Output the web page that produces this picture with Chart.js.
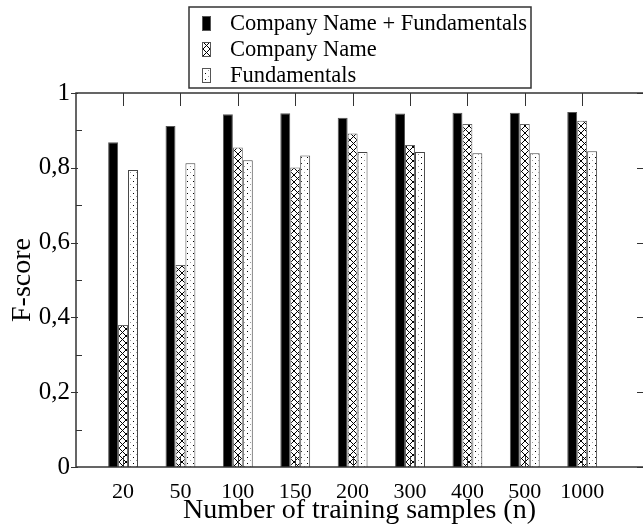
<!DOCTYPE html>
<html>
<head>
<meta charset="utf-8">
<script src="https://cdn.jsdelivr.net/npm/chart.js@4.4.0/dist/chart.umd.min.js"></script>
<style>
  html, body { margin: 0; padding: 0; background: #fff; }
  #wrap { width: 643px; height: 525px; position: relative; }
</style>
</head>
<body>
<div id="wrap"><canvas id="chart"></canvas></div>
<script>
// categories and series
const categories = ['20', '50', '100', '150', '200', '300', '400', '500', '1000'];
const combined = [0.868, 0.912, 0.943, 0.946, 0.934, 0.945, 0.947, 0.947, 0.949];
const nameOnly = [0.380, 0.540, 0.854, 0.801, 0.892, 0.861, 0.917, 0.917, 0.926];
const fundamentals = [0.794, 0.812, 0.820, 0.833, 0.842, 0.842, 0.839, 0.839, 0.844];
const seriesLabels = ['Company Name + Fundamentals', 'Company Name', 'Fundamentals'];
const yTickValues = [0, 0.2, 0.4, 0.6, 0.8, 1];
const yTickLabels = ['0', '0,2', '0,4', '0,6', '0,8', '1'];
const yMinorValues = [0.1, 0.3, 0.5, 0.7, 0.9];

const FONT = '"Liberation Serif", "DejaVu Serif", serif';

function makePattern(size, drawFn) {
    const c = document.createElement('canvas');
    c.width = size; c.height = size;
    const g = c.getContext('2d');
    g.fillStyle = '#fff';
    g.fillRect(0, 0, size, size);
    drawFn(g);
    return c;
}

const hatchTile = makePattern(7, g => {
    g.strokeStyle = '#000';
    g.lineWidth = 1;
    g.beginPath();
    g.moveTo(0, 0); g.lineTo(7, 7);
    g.moveTo(7, 0); g.lineTo(0, 7);
    g.stroke();
});
const dotTile = makePattern(6, g => {
    g.fillStyle = '#000';
    g.fillRect(1, 1, 1, 1);
    g.fillStyle = '#999';
    g.fillRect(4, 4, 1, 1);
});

const ctx = document.getElementById('chart').getContext('2d');
const hatch = ctx.createPattern(hatchTile, 'repeat');
const dots = ctx.createPattern(dotTile, 'repeat');

const toPoints = arr => arr.map((y, i) => ({ x: i + 1, y: y }));

// frame, ticks and boxed legend, drawn the xmgrace way
const framePlugin = {
    id: 'frame',
    afterDraw(chart) {
        const { ctx, chartArea: a, scales } = chart;
        const xs = scales.x, ys = scales.y;
        ctx.save();
        ctx.strokeStyle = '#333';
        ctx.lineWidth = 1.5;
        ctx.strokeRect(a.left, a.top, a.right - a.left + 4, a.bottom - a.top);
        ctx.lineWidth = 1;
        ctx.beginPath();
        categories.forEach((c, i) => {
            const px = Math.round(xs.getPixelForValue(i + 1)) + 0.5;
            ctx.moveTo(px, a.top); ctx.lineTo(px, a.top + 13);
            ctx.moveTo(px, a.bottom); ctx.lineTo(px, a.bottom - 11);
        });
        yTickValues.forEach(v => {
            const py = Math.round(ys.getPixelForValue(v)) + 0.5;
            ctx.moveTo(a.left - 5, py); ctx.lineTo(a.left + 2, py);
            ctx.moveTo(a.right - 6, py); ctx.lineTo(a.right, py);
        });
        yMinorValues.forEach(v => {
            const py = Math.round(ys.getPixelForValue(v)) + 0.5;
            ctx.moveTo(a.left, py); ctx.lineTo(a.left + 6, py);
        });
        ctx.stroke();

        // legend box
        const bx = 189, by = 7, bw = 342, bh = 81;
        ctx.fillStyle = '#fff';
        ctx.fillRect(bx, by, bw, bh);
        ctx.strokeStyle = '#333';
        ctx.lineWidth = 1.5;
        ctx.strokeRect(bx, by, bw, bh);
        ctx.font = '22.5px ' + FONT;
        ctx.textBaseline = 'middle';
        ctx.textAlign = 'left';
        chart.data.datasets.forEach((ds, i) => {
            const cy = 23 + i * 26;
            ctx.fillStyle = ds.backgroundColor;
            ctx.fillRect(202, cy - 7, 9, 15);
            ctx.strokeStyle = '#555';
            ctx.lineWidth = 1;
            ctx.strokeRect(202.5, cy - 6.5, 8, 14);
            ctx.fillStyle = '#000';
            ctx.fillText(ds.label, 230, cy + 1);
        });
        ctx.restore();
    }
};

new Chart(ctx, {
    type: 'bar',
    data: {
        datasets: [
            { label: seriesLabels[0], data: toPoints(combined), backgroundColor: '#000', borderColor: '#555', borderWidth: 1 },
            { label: seriesLabels[1], data: toPoints(nameOnly), backgroundColor: hatch, borderColor: '#666', borderWidth: 1 },
            { label: seriesLabels[2], data: toPoints(fundamentals), backgroundColor: dots, borderColor: '#444', borderWidth: 1 }
        ]
    },
    options: {
        responsive: true,
        maintainAspectRatio: false,
        animation: false,
        categoryPercentage: 0.52,
        barPercentage: 1.0,
        layout: { padding: { top: 93, left: 0, right: 0, bottom: 0 } },
        plugins: {
            legend: { display: false },
            tooltip: { enabled: false }
        },
        scales: {
            x: {
                type: 'linear',
                offset: false,
                min: 0.18,
                max: 10.06,
                grid: { display: false, drawTicks: false, offset: false },
                border: { display: false },
                afterBuildTicks: scale => {
                    scale.ticks = categories.map((c, i) => ({ value: i + 1 }));
                },
                afterFit: scale => { scale.height = 58; },
                ticks: {
                    autoSkip: false,
                    maxRotation: 0,
                    padding: 12,
                    color: '#000',
                    font: { family: FONT, size: 22 },
                    callback: v => categories[v - 1]
                },
                title: {
                    display: true,
                    text: 'Number of training samples (n)',
                    color: '#000',
                    font: { family: FONT, size: 28 },
                    padding: { top: 0, bottom: -2 }
                }
            },
            y: {
                min: 0,
                max: 1,
                grid: { display: false, drawTicks: false },
                border: { display: false },
                afterBuildTicks: scale => {
                    scale.ticks = yTickValues.map(v => ({ value: v }));
                },
                afterFit: scale => { scale.width = 76; },
                ticks: {
                    padding: 6,
                    color: '#000',
                    font: { family: FONT, size: 25 },
                    callback: v => yTickLabels[yTickValues.indexOf(v)]
                },
                title: {
                    display: true,
                    text: 'F-score',
                    color: '#000',
                    font: { family: FONT, size: 28 },
                    padding: { top: 6, bottom: 0 }
                }
            }
        }
    },
    plugins: [framePlugin]
});
</script>
</body>
</html>
